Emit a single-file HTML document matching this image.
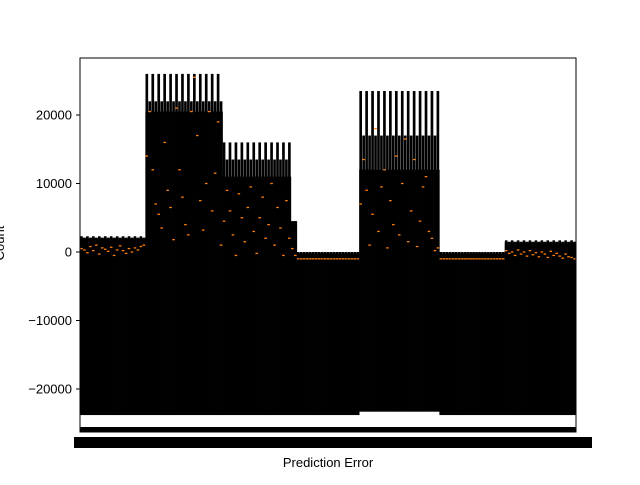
<!DOCTYPE html>
<html><head><meta charset="utf-8"><style>
body{margin:0;background:#fff;width:640px;height:480px;overflow:hidden;font-family:"Liberation Sans","DejaVu Sans",sans-serif}
</style></head><body>
<svg id="c" width="640" height="480" xmlns="http://www.w3.org/2000/svg">
<rect x="0" y="0" width="640" height="480" fill="#fff"/>
<g id="marks"></g>
<rect x="80" y="58" width="496" height="374" fill="none" stroke="#000" stroke-width="1"/>
<g id="yaxis"></g>
<rect x="80" y="427" width="496" height="5" fill="#000"/>
<rect x="74" y="437" width="518" height="11" fill="#000"/>
<text x="328" y="467" font-size="13" text-anchor="middle">Prediction Error</text>
<text transform="translate(4,243) rotate(-90)" font-size="13" text-anchor="middle">Count</text>
</svg>
<script>
const segCount=[22,26,23,2,21,27,22,24];
const segHiA=[2300,26000,16000,4500,0,23500,0,1700];
const segHiB=[2100,22000,13500,4500,0,17000,0,1500];
const segQ3=[2000,20500,11000,4500,-200,12000,-200,1400];
const segLo=[-23800,-23800,-23800,-23800,-23800,-23300,-23800,-23800];
const segMed=[
[500,300,-100,800,200,1000,-300,600,400,100,700,-500,300,900,200,-200,500,0,600,300,800,1000],
[14000,20500,12000,7000,5500,3500,16000,9000,6500,1800,21000,12000,8000,4000,2500,20500,25500,17000,7500,3200,10000,20500,6000,11500,19000,1000],
[4500,9000,6000,2500,-500,8500,5000,1500,6500,9500,3000,-200,5000,8000,2000,4000,10000,1000,6500,3500,-500,7500,2000],
[500,-500],
[-1000,-1000,-1000,-1000,-1000,-1000,-1000,-1000,-1000,-1000,-1000,-1000,-1000,-1000,-1000,-1000,-1000,-1000,-1000,-1000,-1000],
[7000,13500,9000,1000,5500,18000,3000,9500,12000,600,7500,4000,14000,2500,10000,16500,1500,6000,13500,800,4500,9500,11000,3000,2000,200,600],
[-1000,-1000,-1000,-1000,-1000,-1000,-1000,-1000,-1000,-1000,-1000,-1000,-1000,-1000,-1000,-1000,-1000,-1000,-1000,-1000,-1000,-1000],
[200,-200,0,-500,300,-300,0,-600,200,-400,-100,-700,0,-300,-800,100,-500,-200,-600,-900,-300,-700,-800,-1000]
];
const yTicks=[20000,10000,0,-10000,-20000];
const yTickLabels=["20000","10000","0","\u221210000","\u221220000"];
const y0=252, ppu=68.5/10000;
function Y(v){return y0-v*ppu;}
const total=segCount.reduce((a,b)=>a+b,0);
function X(i){return 80+(i+0.5)*496/total;}
const NS="http://www.w3.org/2000/svg";
const g=document.getElementById('marks');
const bw=496/total;
let idx=0;
for(let s=0;s<segCount.length;s++){
  for(let k=0;k<segCount[s];k++){
    const x=X(idx);
    const hi=(k%2===0)?segHiA[s]:segHiB[s];
    const w=document.createElementNS(NS,'rect');
    w.setAttribute('x',x-bw*0.45);w.setAttribute('width',bw*0.9);
    w.setAttribute('y',Y(hi));w.setAttribute('height',Y(segLo[s])-Y(hi));
    w.setAttribute('fill','#000');
    
    
    g.appendChild(w);
    const r=document.createElementNS(NS,'rect');
    r.setAttribute('x',x-bw/2);r.setAttribute('width',bw+0.3);
    r.setAttribute('y',Y(segQ3[s]));r.setAttribute('height',Y(segLo[s])-Y(segQ3[s]));
    r.setAttribute('fill','#000');
    
    
    g.appendChild(r);
    const m=document.createElementNS(NS,'line');
    const mv=segMed[s][k];
    m.setAttribute('x1',x-1.3);m.setAttribute('x2',x+1.3);
    m.setAttribute('y1',Y(mv));m.setAttribute('y2',Y(mv));
    m.setAttribute('stroke','#ff7f0e');m.setAttribute('stroke-width','1.3');
    
    
    g.appendChild(m);
    idx++;
  }
}
const ya=document.getElementById('yaxis');
yTicks.forEach((v,i)=>{
  const t=document.createElementNS(NS,'line');
  t.setAttribute('x1',76);t.setAttribute('x2',80);t.setAttribute('y1',Y(v));t.setAttribute('y2',Y(v));
  t.setAttribute('stroke','#000');
  
  
  ya.appendChild(t);
  const tx=document.createElementNS(NS,'text');
  tx.setAttribute('x',72);tx.setAttribute('y',Y(v)+4.5);tx.setAttribute('text-anchor','end');tx.setAttribute('font-size','13');
  tx.textContent=yTickLabels[i];
  
  
  ya.appendChild(tx);
});
</script>
</body></html>
